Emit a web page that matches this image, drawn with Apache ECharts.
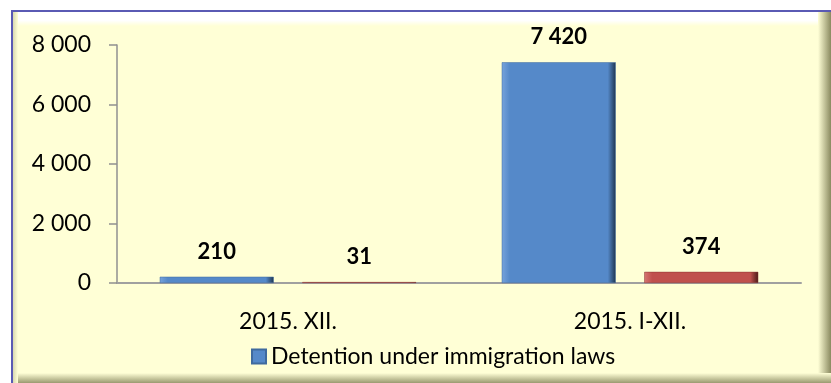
<!DOCTYPE html>
<html>
<head>
<meta charset="utf-8">
<script src="https://cdn.jsdelivr.net/npm/echarts@6/dist/echarts.min.js"></script>
<style>
html,body{margin:0;padding:0;background:#ffffff;}
#c{width:831px;height:383px;}
</style>
</head>
<body>
<div id="c"></div>
<script>
const categories = ['2015. XII.', '2015. I-XII.'];
const detentionValues = [210, 7420];
const secondValues = [31, 374];
const yTicks = [0, 2000, 4000, 6000, 8000];
const legendName = 'Detention under immigration laws';

const FONT = 'Lato';
const chart = echarts.init(document.getElementById('c'), null, {renderer: 'canvas'});

function fmt(v) {
  return String(v).replace(/\B(?=(\d{3})+(?!\d))/g, ' ');
}
function barGrad(light, main, dark) {
  return new echarts.graphic.LinearGradient(0, 0, 1, 0, [
    {offset: 0, color: light},
    {offset: 0.07, color: main},
    {offset: 0.93, color: main},
    {offset: 1, color: dark}
  ]);
}

chart.setOption({
  animation: false,
  backgroundColor: '#ffffff',
  graphic: [
    {type: 'rect', shape: {x: 12, y: 11, width: 830, height: 380}, style: {fill: '#ffffd6', stroke: '#5a5ab4', lineWidth: 2}, z: -10},
    {type: 'rect', shape: {x: 13, y: 12, width: 818, height: 14},
     style: {fill: new echarts.graphic.LinearGradient(0, 0, 0, 1, [{offset: 0, color: '#ffffff'}, {offset: 0.6, color: '#ffffff'}, {offset: 1, color: '#ffffd6'}])}, z: -9},
    {type: 'rect', shape: {x: 818, y: 12, width: 13, height: 371},
     style: {fill: new echarts.graphic.LinearGradient(0, 0, 1, 0, [{offset: 0, color: '#ffffd6'}, {offset: 1, color: '#8a8a60'}])}, z: -8},
    {type: 'rect', shape: {x: 13, y: 373, width: 818, height: 10},
     style: {fill: new echarts.graphic.LinearGradient(0, 0, 0, 1, [{offset: 0, color: '#ffffd6'}, {offset: 1, color: '#9a9a70'}])}, z: -8},
    {type: 'rect', shape: {x: 13, y: 12, width: 5, height: 371},
     style: {fill: new echarts.graphic.LinearGradient(0, 0, 1, 0, [{offset: 0, color: '#d8d8b0'}, {offset: 1, color: '#ffffd6'}])}, z: -8}
  ],
  grid: {left: 117, right: 30, top: 45, bottom: 100, containLabel: false},
  legend: {
    data: [legendName],
    left: 246, top: 340,
    itemWidth: 14, itemHeight: 14, itemGap: 8,
    icon: 'rect',
    textStyle: {fontFamily: FONT, fontSize: 23, color: '#000'}
  },
  xAxis: {
    type: 'category',
    data: categories,
    axisLine: {lineStyle: {color: '#a0a0a0', width: 2}},
    axisTick: {show: false},
    axisLabel: {fontFamily: FONT, fontSize: 23, color: '#000', margin: 27}
  },
  yAxis: {
    type: 'value',
    min: yTicks[0], max: yTicks[yTicks.length - 1], interval: 2000,
    axisLine: {show: true, lineStyle: {color: '#909090', width: 1.5}},
    axisTick: {show: true, length: 8, lineStyle: {color: '#909090', width: 1.5}},
    splitLine: {show: false},
    axisLabel: {fontFamily: FONT, fontSize: 23, color: '#000', margin: 26, formatter: fmt}
  },
  series: [
    {
      name: legendName, type: 'bar', data: detentionValues,
      barWidth: 114, barGap: '25%',
      itemStyle: {color: barGrad('#76a3dc', '#5589c9', '#1e3550'), borderColor: '#3f6a9e', borderWidth: 0.5},
      label: {show: true, position: 'top', distance: 14, fontFamily: FONT, fontWeight: 'bold', fontSize: 22, color: '#000', formatter: p => fmt(p.value)}
    },
    {
      name: 'Other', type: 'bar', data: secondValues,
      barWidth: 114,
      itemStyle: {color: barGrad('#d57572', '#c0504d', '#4a1a18'), borderColor: '#8a3634', borderWidth: 0.5},
      label: {show: true, position: 'top', distance: 14, fontFamily: FONT, fontWeight: 'bold', fontSize: 22, color: '#000', formatter: p => fmt(p.value)}
    }
  ]
});
</script>
</body>
</html>
